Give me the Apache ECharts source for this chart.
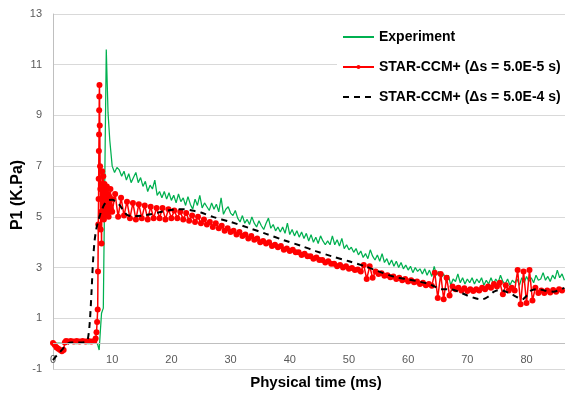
<!DOCTYPE html>
<html><head><meta charset="utf-8">
<script src="https://cdn.jsdelivr.net/npm/echarts@6/dist/echarts.min.js"></script>
<style>html,body{margin:0;padding:0;background:#fff}#c{width:573px;height:400px}</style>
</head><body><div id="c"></div>
<script>
// ---- axis ticks ----
const xTicks = [0, 10, 20, 30, 40, 50, 60, 70, 80];
const yTicks = [-1, 1, 3, 5, 7, 9, 11, 13];
const xAxisCrossing = [0];

// ---- Experiment (green) ----
const expRiseT = [0, 1, 2, 3, 4, 5, 6, 7, 7.5, 7.8, 8.0, 8.2, 8.5, 8.7, 9.0, 9.3, 9.6, 10.0];
const expRiseV = [0.0, 0.02, 0.0, 0.02, 0.0, 0.02, 0.0, 0.02, 0.0, -0.25, 0.5, 1.2, 1.4, 5.5, 11.6, 9.1, 8.0, 7.0];
const expStart = 10.4, expStep = 0.4;
const expV = [
  6.75, 6.95, 6.85, 6.6, 6.8, 6.45, 6.7, 6.35, 6.55, 6.75,
  6.35, 6.55, 6.2, 6.4, 6.0, 6.25, 6.1, 6.45, 5.85, 6.0,
  5.75, 6.0, 5.7, 5.95, 5.65, 5.85, 5.55, 5.9, 5.6, 5.75,
  5.45, 5.8, 5.5, 5.3, 5.7, 5.45, 5.85, 5.35, 5.55, 5.4,
  5.25, 5.55, 5.3, 5.5, 5.2, 5.75, 5.1, 5.3, 5.4, 5.15,
  5.05, 5.25, 4.95, 4.8, 5.05, 4.75, 4.9, 4.7, 5.0, 4.75,
  4.6, 4.85, 4.65, 4.5, 4.75, 4.95, 4.55, 4.7, 4.45, 4.6,
  4.4, 4.6, 4.35, 4.75, 4.3, 4.5, 4.25, 4.45, 4.2, 4.4,
  4.15, 4.35, 4.05, 4.3, 4.0, 4.2, 3.95, 4.25, 4.05, 3.9,
  4.05, 3.9, 4.25, 3.9, 4.1, 3.85, 4.15, 3.75, 3.9, 3.7,
  3.8, 3.6, 3.75, 3.5, 3.65, 3.4, 3.55, 3.35, 3.7, 3.45,
  3.3, 3.5, 3.25, 3.55, 3.2, 3.35, 3.1, 3.3, 3.05, 3.25,
  3.0, 3.2, 2.95, 3.1, 2.9, 3.05, 2.8, 3.0, 2.85, 2.95,
  2.75, 2.95, 2.7, 2.9, 2.65, 3.05, 2.7, 2.85, 2.6, 2.75,
  2.45, 2.7, 2.3, 2.55, 2.45, 2.75, 2.4, 2.6, 2.35, 2.55,
  2.4, 2.6, 2.35, 2.55, 2.4, 2.6, 2.3, 2.5, 2.35, 2.6,
  2.35, 2.55, 2.4, 2.7, 2.45, 2.35, 2.55, 2.3, 2.5, 2.4,
  2.55, 2.3, 2.6, 2.4, 2.65, 2.45, 2.6, 2.4, 2.7, 2.5,
  2.55, 2.8, 2.5, 2.65, 2.45, 2.7, 2.55, 2.9, 2.6, 2.75,
  2.5
];

// ---- STAR-CCM+ ds = 5.0E-5 s (red) ----
const fineRiseT = [0, 0.3, 0.6, 0.9, 1.2, 1.5, 1.8, 2.0, 2.2, 2.5, 3.0, 3.5, 4.0, 4.5, 5.0, 5.5, 6.0, 6.5, 7.0, 7.2,
  7.35, 7.45, 7.55, 7.6, 7.65, 7.7, 7.72, 7.75, 7.78, 7.8, 7.82, 7.85, 7.9, 7.95, 8.0, 8.05, 8.1, 8.15, 8.2, 8.3,
  8.4, 8.5, 8.6, 8.7, 8.8, 8.9, 9.0, 9.1, 9.2, 9.3, 9.4, 9.5, 9.6, 9.7, 9.8, 9.9, 10.0];
const fineRiseV = [0.03, -0.05, -0.15, -0.2, -0.25, -0.3, -0.25, 0.05, 0.1, 0.08, 0.1, 0.08, 0.1, 0.08, 0.1, 0.08, 0.1, 0.08, 0.1, 0.2,
  0.45, 0.85, 1.35, 2.85, 4.7, 5.7, 6.5, 7.6, 8.25, 9.2, 9.75, 10.2, 8.6, 7.0, 6.1, 4.5, 6.3, 5.2, 3.95, 6.8,
  5.0, 6.6, 4.9, 6.3, 5.2, 6.0, 5.1, 6.2, 5.3, 5.9, 5.0, 5.8, 5.2, 6.1, 5.3, 5.7, 5.2];
const fineStart = 10.5, fineStep = 0.5;
const fineV = [
  5.9, 5.0, 5.75, 5.05, 5.6, 4.95, 5.55, 4.9, 5.5, 4.95,
  5.45, 4.9, 5.4, 4.95, 5.35, 4.95, 5.35, 4.9, 5.3, 4.95,
  5.25, 4.95, 5.2, 4.9, 5.15, 4.85, 5.05, 4.8, 5.0, 4.75,
  4.9, 4.7, 4.8, 4.6, 4.75, 4.55, 4.65, 4.45, 4.55, 4.4,
  4.45, 4.3, 4.4, 4.25, 4.3, 4.15, 4.25, 4.1, 4.15, 4.0,
  4.05, 3.95, 4.0, 3.85, 3.9, 3.8, 3.85, 3.7, 3.75, 3.65,
  3.7, 3.6, 3.6, 3.5, 3.55, 3.45, 3.45, 3.35, 3.4, 3.3,
  3.3, 3.2, 3.25, 3.15, 3.15, 3.05, 3.1, 3.0, 3.05, 2.95,
  2.98, 2.9, 2.92, 2.85, 3.1, 2.55, 3.05, 2.6, 2.85, 2.75,
  2.78, 2.68, 2.7, 2.62, 2.65, 2.55, 2.6, 2.5, 2.55, 2.45,
  2.5, 2.42, 2.45, 2.35, 2.4, 2.3, 2.35, 2.28, 2.8, 1.8,
  2.75, 1.75, 2.6, 1.9, 2.25, 2.15, 2.2, 2.1, 2.18, 2.08,
  2.15, 2.08, 2.15, 2.1, 2.2, 2.15, 2.25, 2.2, 2.35, 2.25,
  2.4, 1.95, 2.3, 2.1, 2.2, 2.1, 2.9, 1.55, 2.85, 1.6,
  2.9, 1.7, 2.2, 2.0, 2.1, 2.0, 2.1, 2.02, 2.12, 2.05,
  2.15, 2.1
];

// ---- STAR-CCM+ ds = 5.0E-4 s (black dashed) ----
const coarseT = [0, 0.5, 1.0, 1.5, 2.0, 2.5, 3.0, 4.0, 5.0, 5.6, 5.9, 6.2, 6.5, 6.75, 7.0, 7.3, 7.6, 7.9, 8.3, 8.7,
  9.3, 10.0, 10.6, 11.3, 12.0, 12.5, 13.5, 15.0, 16.5, 18, 19.7, 21, 22, 23.5, 25, 27, 30, 33, 36, 39,
  42, 44.5, 47, 50, 53, 55, 57.5, 60, 62, 63.5, 64.5, 65.5, 67, 68.5, 70, 71.5, 72.5, 73.5, 74.5, 75.5,
  76.5, 77.5, 78.5, 79.3, 80, 80.8, 81.8, 83, 84.5, 86.4];
const coarseV = [-0.65, -0.5, -0.38, -0.25, -0.1, 0.0, 0.05, 0.05, 0.05, 0.08, 0.2, 0.8, 2.0, 3.2, 4.0, 4.5, 4.8, 5.05, 5.3, 5.5,
  5.65, 5.67, 5.6, 5.45, 5.2, 5.08, 5.02, 5.05, 5.1, 5.18, 5.26, 5.3, 5.3, 5.25, 5.17, 5.0, 4.8, 4.57, 4.33, 4.08,
  3.85, 3.64, 3.45, 3.25, 3.03, 2.85, 2.65, 2.53, 2.44, 2.35, 2.25, 2.15, 2.15, 2.05, 1.9, 1.78, 1.75, 1.85, 2.05, 2.12,
  2.05, 1.95, 1.82, 1.75, 1.88, 2.1, 2.15, 2.1, 2.05, 2.2];

function pairs(ts, vs) { return ts.map((t, i) => [t, vs[i]]); }
function sampled(t0, step, vs) { return vs.map((v, i) => [Math.round((t0 + i * step) * 100) / 100, v]); }

const expData = pairs(expRiseT, expRiseV).concat(sampled(expStart, expStep, expV));
const fineData = pairs(fineRiseT, fineRiseV).concat(sampled(fineStart, fineStep, fineV));
const coarseData = pairs(coarseT, coarseV);

const chart = echarts.init(document.getElementById('c'), null, { renderer: 'canvas' });
const labelColor = '#595959';
const hidden = { opacity: 0 };
chart.setOption({
  animation: false,
  backgroundColor: '#fff',
  grid: { left: 53, right: 8, top: 14, bottom: 31, containLabel: false },
  xAxis: {
    type: 'value', min: 0, max: 86.5, interval: 10,
    axisLine: { show: false, onZero: false },
    axisTick: { show: false },
    splitLine: { show: false },
    axisLabel: {
      color: labelColor, fontFamily: 'Liberation Sans', fontSize: 11, margin: -15,
      formatter: v => (xTicks.indexOf(v) >= 0 ? String(v) : '')
    }
  },
  yAxis: {
    type: 'value', min: -1, max: 13,
    axisLine: { show: true, lineStyle: { color: '#bfbfbf', width: 1 } },
    axisTick: { show: false, customValues: yTicks },
    splitLine: { show: true, lineStyle: { color: '#d9d9d9', width: 1 } },
    axisLabel: { color: labelColor, fontFamily: 'Liberation Sans', fontSize: 11, margin: 11, customValues: yTicks }
  },
  legend: {
    orient: 'vertical', left: 337, top: 25, padding: [5, 5, 5, 5],
    backgroundColor: '#fff',
    itemWidth: 31, itemHeight: 5, itemGap: 16,
    textStyle: { fontFamily: 'Liberation Sans', fontWeight: 'bold', fontSize: 14, color: '#000' },
    data: [
      { name: 'Experiment', itemStyle: hidden },
      { name: 'STAR-CCM+ (Δs = 5.0E-5 s)' },
      { name: 'STAR-CCM+ (Δs = 5.0E-4 s)', itemStyle: hidden }
    ]
  },
  graphic: [
    { type: 'text', x: 316, y: 383, style: { text: 'Physical time (ms)', font: 'bold 15px "Liberation Sans"', fill: '#000', align: 'center', verticalAlign: 'middle' } },
    { type: 'text', x: 18, y: 195, rotation: Math.PI / 2, style: { text: 'P1 (K.Pa)', font: 'bold 16px "Liberation Sans"', fill: '#000', align: 'center', verticalAlign: 'middle' } }
  ],
  series: [
    { name: 'Experiment', type: 'line', data: expData, symbol: 'none', z: 2,
      lineStyle: { color: '#00b050', width: 1.25 }, itemStyle: { color: '#00b050' },
      markLine: { silent: true, symbol: 'none', label: { show: false }, animation: false,
        lineStyle: { color: '#bfbfbf', width: 1, type: 'solid' },
        data: xAxisCrossing.map(v => ({ yAxis: v })) } },
    { name: 'STAR-CCM+ (Δs = 5.0E-5 s)', type: 'line', data: fineData, symbol: 'circle', symbolSize: 6, showAllSymbol: true, z: 3,
      lineStyle: { color: '#ff0000', width: 1.5 }, itemStyle: { color: '#ff0000' } },
    { name: 'STAR-CCM+ (Δs = 5.0E-4 s)', type: 'line', data: coarseData, symbol: 'none', smooth: 0.3, z: 4,
      lineStyle: { color: '#000', width: 2, type: [6, 5] }, itemStyle: { color: '#000' } }
  ]
});
</script></body></html>
